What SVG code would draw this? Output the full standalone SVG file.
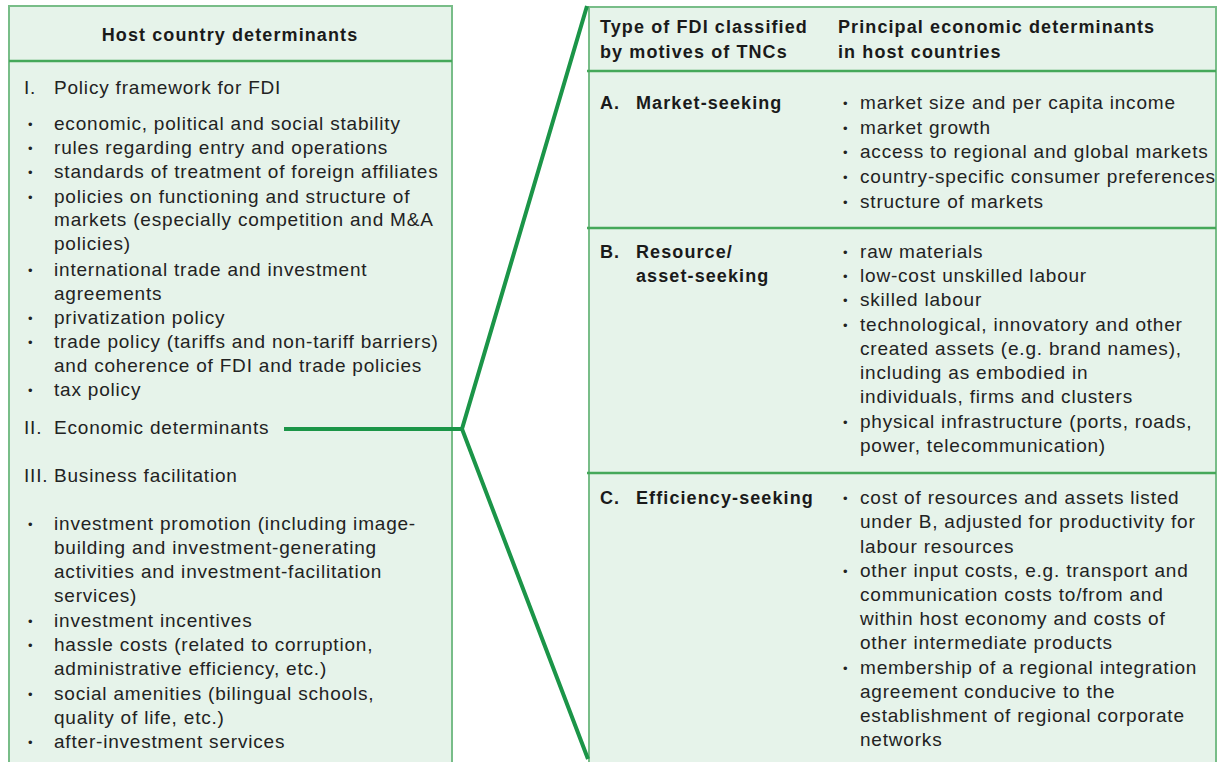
<svg xmlns="http://www.w3.org/2000/svg" width="1224" height="762" viewBox="0 0 1224 762">
<style>
.box{fill:#e6f3ea;stroke:#78bd88;stroke-width:2}
.div{stroke:#45a85a;stroke-width:2.5}
.t{font-family:"Liberation Sans",Arial,sans-serif;font-size:19px;fill:#222;letter-spacing:0.8px}
.t .d{font-size:13px;letter-spacing:0}
.b{font-family:"Liberation Sans",Arial,sans-serif;font-size:18px;font-weight:bold;fill:#1a1a1a;letter-spacing:1.1px}
.con{fill:none;stroke:#1b9548;stroke-width:4;stroke-linejoin:miter}
</style>
<rect width="1224" height="762" fill="#ffffff"/>
<g id="host-country-determinants">
<rect class="box" x="9" y="6" width="443" height="770"/>
<line class="div" x1="9" y1="61" x2="452" y2="61"/>
<text class="b" x="230" y="41" text-anchor="middle">Host country determinants</text>
<text class="t" x="24" y="94">I.</text><text class="t" x="54" y="94">Policy framework for FDI</text>
<g class="t">
<text class="d" x="28" y="129">•</text><text x="54" y="130">economic, political and social stability</text>
<text class="d" x="28" y="153">•</text><text x="54" y="154">rules regarding entry and operations</text>
<text class="d" x="28" y="177">•</text><text x="54" y="178">standards of treatment of foreign affiliates</text>
<text class="d" x="28" y="202">•</text><text x="54" y="203">policies on functioning and structure of</text>
<text x="54" y="226">markets (especially competition and M&amp;A</text>
<text x="54" y="250">policies)</text>
<text class="d" x="28" y="275">•</text><text x="54" y="276">international trade and investment</text>
<text x="54" y="300">agreements</text>
<text class="d" x="28" y="323">•</text><text x="54" y="324">privatization policy</text>
<text class="d" x="28" y="347">•</text><text x="54" y="348">trade policy (tariffs and non-tariff barriers)</text>
<text x="54" y="372">and coherence of FDI and trade policies</text>
<text class="d" x="28" y="395">•</text><text x="54" y="396">tax policy</text>
</g>
<text class="t" x="24" y="434">II.</text><text class="t" x="54" y="434">Economic determinants</text>
<text class="t" x="24" y="482">III.</text><text class="t" x="54" y="482">Business facilitation</text>
<g class="t">
<text class="d" x="28" y="529">•</text><text x="54" y="530">investment promotion (including image-</text>
<text x="54" y="554">building and investment-generating</text>
<text x="54" y="578">activities and investment-facilitation</text>
<text x="54" y="602">services)</text>
<text class="d" x="28" y="626">•</text><text x="54" y="627">investment incentives</text>
<text class="d" x="28" y="650">•</text><text x="54" y="651">hassle costs (related to corruption,</text>
<text x="54" y="675">administrative efficiency, etc.)</text>
<text class="d" x="28" y="699">•</text><text x="54" y="700">social amenities (bilingual schools,</text>
<text x="54" y="724">quality of life, etc.)</text>
<text class="d" x="28" y="747">•</text><text x="54" y="748">after-investment services</text>
</g>
</g>
<g id="fdi-types-table">
<rect class="box" x="589" y="7" width="627" height="770"/>
<line class="div" x1="587" y1="71" x2="1216" y2="71"/>
<line class="div" x1="587" y1="228" x2="1216" y2="228"/>
<line class="div" x1="587" y1="473" x2="1216" y2="473"/>
<text class="b" x="600" y="33">Type of FDI classified</text>
<text class="b" x="600" y="58">by motives of TNCs</text>
<text class="b" x="838" y="33">Principal economic determinants</text>
<text class="b" x="838" y="58">in host countries</text>
</g>
<g id="market-seeking">
<text class="b" x="600" y="109">A.</text><text class="b" x="636" y="109">Market-seeking</text>
<g class="t">
<text class="d" x="843" y="108">•</text><text x="860" y="109">market size and per capita income</text>
<text class="d" x="843" y="133">•</text><text x="860" y="134">market growth</text>
<text class="d" x="843" y="157">•</text><text x="860" y="158">access to regional and global markets</text>
<text class="d" x="843" y="182">•</text><text x="860" y="183">country-specific consumer preferences</text>
<text class="d" x="843" y="207">•</text><text x="860" y="208">structure of markets</text>
</g>
</g>
<g id="resource-seeking">
<text class="b" x="600" y="258">B.</text><text class="b" x="636" y="258">Resource/</text>
<text class="b" x="636" y="282">asset-seeking</text>
<g class="t">
<text class="d" x="843" y="257">•</text><text x="860" y="258">raw materials</text>
<text class="d" x="843" y="281">•</text><text x="860" y="282">low-cost unskilled labour</text>
<text class="d" x="843" y="305">•</text><text x="860" y="306">skilled labour</text>
<text class="d" x="843" y="330">•</text><text x="860" y="331">technological, innovatory and other</text>
<text x="860" y="355">created assets (e.g. brand names),</text>
<text x="860" y="379">including as embodied in</text>
<text x="860" y="403">individuals, firms and clusters</text>
<text class="d" x="843" y="427">•</text><text x="860" y="428">physical infrastructure (ports, roads,</text>
<text x="860" y="452">power, telecommunication)</text>
</g>
</g>
<g id="efficiency-seeking">
<text class="b" x="600" y="504">C.</text><text class="b" x="636" y="504">Efficiency-seeking</text>
<g class="t">
<text class="d" x="843" y="503">•</text><text x="860" y="504">cost of resources and assets listed</text>
<text x="860" y="528">under B, adjusted for productivity for</text>
<text x="860" y="553">labour resources</text>
<text class="d" x="843" y="576">•</text><text x="860" y="577">other input costs, e.g. transport and</text>
<text x="860" y="601">communication costs to/from and</text>
<text x="860" y="625">within host economy and costs of</text>
<text x="860" y="649">other intermediate products</text>
<text class="d" x="843" y="673">•</text><text x="860" y="674">membership of a regional integration</text>
<text x="860" y="698">agreement conducive to the</text>
<text x="860" y="722">establishment of regional corporate</text>
<text x="860" y="746">networks</text>
</g>
</g>
<g id="connectors">
<line class="con" x1="284" y1="429" x2="462" y2="429" stroke-width="5"/>
<polyline class="con" points="587,6 462,429 588,759"/>
</g>
</svg>
